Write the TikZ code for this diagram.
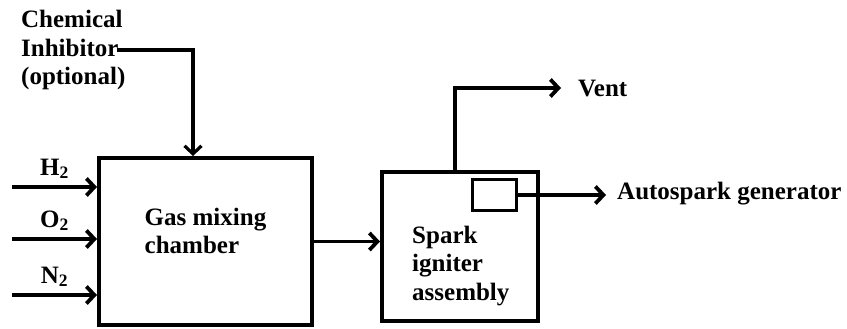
\documentclass[tikz,border=0pt]{standalone}
\usepackage{fontspec}
\setmainfont{Liberation Serif}
\usetikzlibrary{arrows.meta,positioning,calc}

\begin{document}
\begin{tikzpicture}[
  x=1pt, y=-1pt,
  font=\fontsize{25}{28.5}\selectfont\bfseries,
  box/.style={draw, line width=4pt, rectangle, inner sep=0pt},
  txt/.style={inner sep=0pt, align=left},
  arr/.style={-{Straight Barb[length=8pt, width=17pt]}, line width=3.8pt}
]
\useasboundingbox (0,0) rectangle (847,329);
\node[box, minimum width=213pt, minimum height=167pt] (gas) at (205.5,241.5) {};
\node[box, minimum width=156pt, minimum height=149pt] (spark) at (460,246.5) {};
\node[box, line width=3.4pt, minimum width=44pt, minimum height=31pt] (igniter) at (494.5,195) {};
\node[txt] (gastxt) at (205.5,231) {Gas mixing\\chamber};
\node[txt, anchor=west] (sparktxt) at (412,266) {Spark\\igniter\\assembly};
\node[txt, anchor=west] (inhib) at (21,50) {Chemical\\Inhibitor\\(optional)};
\node[txt, anchor=base west] (vent) at (578,96) {Vent};
\node[txt, anchor=base west] (autospark) at (617,199) {Autospark generator};
\coordinate (h2in) at (12,187);
\coordinate (o2in) at (12,239);
\coordinate (n2in) at (12,295);
\coordinate (drop) at (193,0);
\coordinate (ventout) at (455,0);

\draw[arr] (h2in) -- node[above=3pt] (h2) {H\textsubscript{2}} (h2in -| gas.west);
\draw[arr] (o2in) -- node[above=3pt] (o2) {O\textsubscript{2}} (o2in -| gas.west);
\draw[arr] (n2in) -- node[above=3pt] (n2) {N\textsubscript{2}} (n2in -| gas.west);
\draw[arr, line width=3.2pt, shorten <=-9pt] (inhib.east) -| (drop |- gas.north);
\draw[arr] (gas.east) -- (gas.east -| spark.west);
\draw[arr] (ventout |- spark.north) |- ([xshift=-17pt]vent.west);
\draw[arr] (igniter.east) -- ([xshift=-11pt]igniter.east -| autospark.west);
\end{tikzpicture}
\end{document}
